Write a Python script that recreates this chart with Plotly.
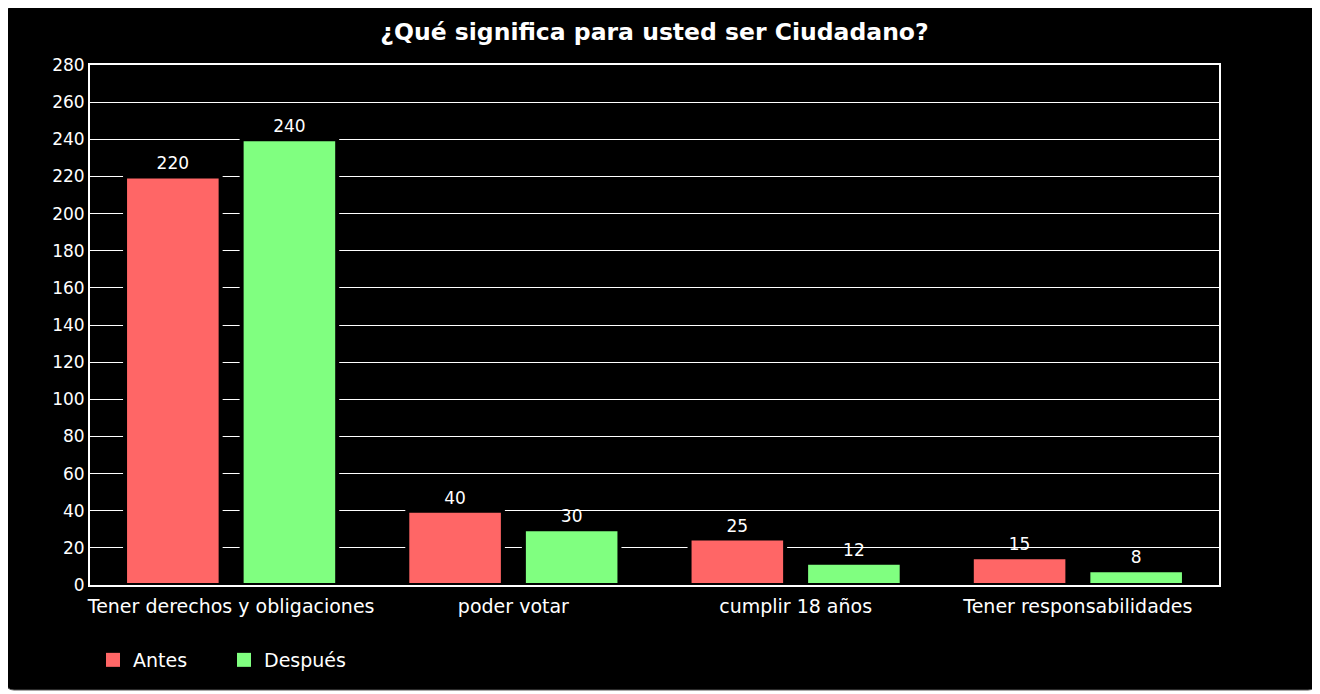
import plotly.graph_objects as go

categories = ["Tener derechos y obligaciones", "poder votar", "cumplir 18 años", "Tener responsabilidades"]
antes = [220, 40, 25, 15]
despues = [240, 30, 12, 8]
y_ticks = list(range(0, 281, 20))

OFF = 8  # page body margin
W, H = 1320 - OFF, 694 - OFF
L, R, T, B = 90 - OFF, 1320 - 1219, 65 - OFF, 694 - 585
pw, ph = W - L - R, H - T - B

def px(x):
    return (x - OFF - L) / pw

def py(y):
    return (H - B - (y - OFF)) / ph

font = "DejaVu Sans, Verdana, sans-serif"
RED, GREEN = "#FF6666", "#80FF80"

fig = go.Figure()
fig.add_trace(go.Bar(
    name="Antes", x=categories, y=antes, showlegend=False,
    marker=dict(color=RED, line=dict(color="#000000", width=4)),
    text=[str(v) for v in antes], textposition="outside",
    textfont=dict(color="#FFFFFF", size=17, family=font),
    cliponaxis=False,
))
fig.add_trace(go.Bar(
    name="Después", x=categories, y=despues, showlegend=False,
    marker=dict(color=GREEN, line=dict(color="#000000", width=4)),
    text=[str(v) for v in despues], textposition="outside",
    textfont=dict(color="#FFFFFF", size=17, family=font),
    cliponaxis=False,
))
# legend-only entries
for nm, col in [("Antes", RED), ("Después", GREEN)]:
    fig.add_trace(go.Scatter(x=[None], y=[None], mode="markers", name=nm,
                             marker=dict(symbol="square", size=14, color=col)))

# black panel
x0, x1, y0, y1 = px(6), px(1316), py(690), py(6)
rx, ry = 8 / pw, 8 / ph
path = (f"M {x0+rx},{y0} L {x1-rx},{y0} Q {x1},{y0} {x1},{y0+ry} "
        f"L {x1},{y1-ry} Q {x1},{y1} {x1-rx},{y1} L {x0+rx},{y1} "
        f"Q {x0},{y1} {x0},{y1-ry} L {x0},{y0+ry} Q {x0},{y0} {x0+rx},{y0} Z")

fig.update_layout(
    width=W, height=H,
    margin=dict(l=L, r=R, t=T, b=B),
    paper_bgcolor="#FFFFFF", plot_bgcolor="#000000",
    barmode="group", bargap=0.174, bargroupgap=0.18,
    title=dict(text="<b>¿Qué significa para usted ser Ciudadano?</b>",
               x=0.5, xref="paper", xanchor="center", y=1 - (32 - OFF) / H, yanchor="middle",
               font=dict(color="#FFFFFF", size=23.5, family=font)),
    font=dict(family=font, color="#FFFFFF", size=17),
    legend=dict(orientation="h", x=px(93), xanchor="left", y=py(660), yanchor="middle",
                font=dict(color="#FFFFFF", size=19, family=font),
                bgcolor="rgba(0,0,0,0)", entrywidth=86),
    shapes=[
        dict(type="path", xref="paper", yref="paper", path=path,
             fillcolor="#000000", line=dict(color="#555555", width=1), layer="below"),
    ],
    xaxis=dict(showgrid=False, showline=True, linecolor="#FFFFFF", linewidth=2, mirror=True,
               tickfont=dict(color="#FFFFFF", size=19, family=font), ticks="",
               ticklabelstandoff=3),
    yaxis=dict(range=[0, 280], tickvals=y_ticks, showgrid=True, gridcolor="#FFFFFF", gridwidth=1,
               showline=True, linecolor="#FFFFFF", linewidth=2, mirror=True, zeroline=False,
               tickfont=dict(color="#FFFFFF", size=17, family=font), ticks="", ticklen=0),
    showlegend=True,
)

fig.write_html("out.html")
